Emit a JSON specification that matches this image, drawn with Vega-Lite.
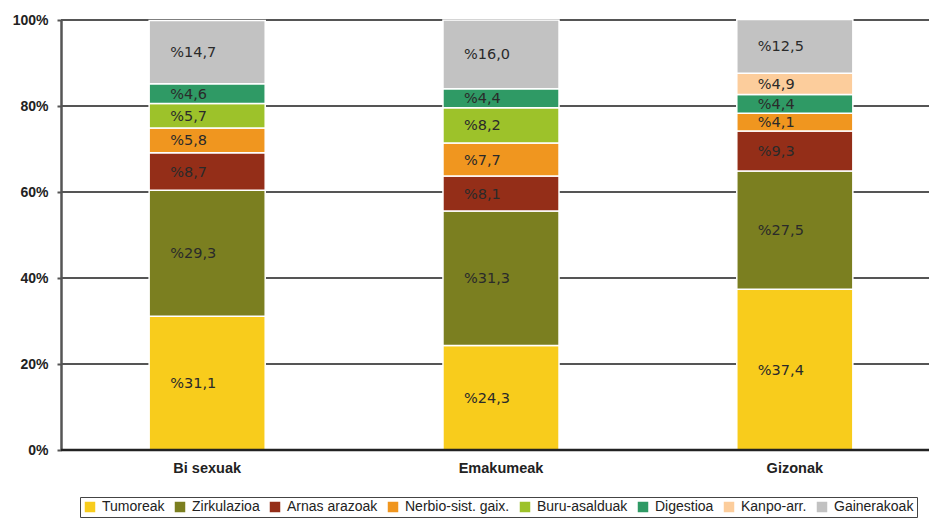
{
  "$schema": "https://vega.github.io/schema/vega-lite/v6.json",
  "width": 880,
  "height": 430,
  "autosize": "none",
  "padding": {"left": 61, "top": 20, "right": 0, "bottom": 68},
  "background": "white",
  "config": {"view": {"stroke": null}, "font": "Liberation Sans"},
  "data": {
    "values": [
      {"taldea": "Bi sexuak", "kausa": "Tumoreak", "o": 1, "balioa": 31.1, "label": "%31,1"},
      {"taldea": "Bi sexuak", "kausa": "Zirkulazioa", "o": 2, "balioa": 29.3, "label": "%29,3"},
      {"taldea": "Bi sexuak", "kausa": "Arnas arazoak", "o": 3, "balioa": 8.7, "label": "%8,7"},
      {"taldea": "Bi sexuak", "kausa": "Nerbio-sist. gaix.", "o": 4, "balioa": 5.8, "label": "%5,8"},
      {"taldea": "Bi sexuak", "kausa": "Buru-asalduak", "o": 5, "balioa": 5.7, "label": "%5,7"},
      {"taldea": "Bi sexuak", "kausa": "Digestioa", "o": 6, "balioa": 4.6, "label": "%4,6"},
      {"taldea": "Bi sexuak", "kausa": "Gainerakoak", "o": 8, "balioa": 14.7, "label": "%14,7"},
      {"taldea": "Emakumeak", "kausa": "Tumoreak", "o": 1, "balioa": 24.3, "label": "%24,3"},
      {"taldea": "Emakumeak", "kausa": "Zirkulazioa", "o": 2, "balioa": 31.3, "label": "%31,3"},
      {"taldea": "Emakumeak", "kausa": "Arnas arazoak", "o": 3, "balioa": 8.1, "label": "%8,1"},
      {"taldea": "Emakumeak", "kausa": "Nerbio-sist. gaix.", "o": 4, "balioa": 7.7, "label": "%7,7"},
      {"taldea": "Emakumeak", "kausa": "Buru-asalduak", "o": 5, "balioa": 8.2, "label": "%8,2"},
      {"taldea": "Emakumeak", "kausa": "Digestioa", "o": 6, "balioa": 4.4, "label": "%4,4"},
      {"taldea": "Emakumeak", "kausa": "Gainerakoak", "o": 8, "balioa": 16.0, "label": "%16,0"},
      {"taldea": "Gizonak", "kausa": "Tumoreak", "o": 1, "balioa": 37.4, "label": "%37,4"},
      {"taldea": "Gizonak", "kausa": "Zirkulazioa", "o": 2, "balioa": 27.5, "label": "%27,5"},
      {"taldea": "Gizonak", "kausa": "Arnas arazoak", "o": 3, "balioa": 9.3, "label": "%9,3"},
      {"taldea": "Gizonak", "kausa": "Nerbio-sist. gaix.", "o": 4, "balioa": 4.1, "label": "%4,1"},
      {"taldea": "Gizonak", "kausa": "Digestioa", "o": 6, "balioa": 4.4, "label": "%4,4"},
      {"taldea": "Gizonak", "kausa": "Kanpo-arr.", "o": 7, "balioa": 4.9, "label": "%4,9"},
      {"taldea": "Gizonak", "kausa": "Gainerakoak", "o": 8, "balioa": 12.5, "label": "%12,5"}
    ]
  },
  "transform": [
    {"stack": "balioa", "groupby": ["taldea"], "sort": [{"field": "o", "order": "ascending"}], "as": ["y0", "y1"]},
    {"calculate": "(datum.y0 + datum.y1) / 2", "as": "ymid"}
  ],
  "encoding": {
    "x": {
      "field": "taldea",
      "type": "nominal",
      "sort": ["Bi sexuak", "Emakumeak", "Gizonak"],
      "scale": {"paddingInner": 0.605, "paddingOuter": 0.3},
      "axis": {
        "title": null,
        "labelAngle": 0,
        "labelFont": "Liberation Sans",
        "labelFontWeight": "bold",
        "labelFontSize": 14.5,
        "labelColor": "#222",
        "labelPadding": 11,
        "ticks": false,
        "domain": false
      }
    }
  },
  "layer": [
    {
      "mark": {"type": "rule", "color": "#555", "strokeWidth": 2},
      "data": {"values": [{"v": 20}, {"v": 40}, {"v": 60}, {"v": 80}, {"v": 100}]},
      "transform": [],
      "encoding": {
        "x": null,
        "y": {"field": "v", "type": "quantitative", "scale": {"domain": [0, 100]}}
      }
    },
    {
      "mark": {"type": "bar", "stroke": "white", "strokeWidth": 1.5},
      "encoding": {
        "y": {
          "field": "y0",
          "type": "quantitative",
          "scale": {"domain": [0, 100]},
          "axis": {
            "title": null,
            "values": [0, 20, 40, 60, 80, 100],
            "labelExpr": "datum.value + '%'",
            "labelFont": "Liberation Sans",
            "labelFontWeight": "bold",
            "labelFontSize": 14,
            "labelColor": "#222",
            "grid": false,
            "domainColor": "#555",
            "domainWidth": 2.5,
            "tickColor": "#555",
            "tickWidth": 2,
            "tickSize": 4,
            "labelPadding": 9
          }
        },
        "y2": {"field": "y1"},
        "color": {
          "field": "kausa",
          "type": "nominal",
          "scale": {
            "domain": ["Tumoreak", "Zirkulazioa", "Arnas arazoak", "Nerbio-sist. gaix.", "Buru-asalduak", "Digestioa", "Kanpo-arr.", "Gainerakoak"],
            "range": ["#F8CC1C", "#7B7F20", "#942E18", "#F0961F", "#9DC22A", "#2F9A65", "#FCCD9C", "#C2C2C2"]
          },
          "legend": {
            "title": null,
            "orient": "none",
            "legendX": 19,
            "legendY": 477,
            "direction": "horizontal",
            "columns": 8,
            "columnPadding": 8,
            "symbolType": "square",
            "symbolSize": 110,
            "symbolStrokeWidth": 0,
            "labelFont": "Liberation Sans",
            "labelFontSize": 14,
            "labelColor": "#222",
            "labelOffset": 5,
            "strokeColor": "#444",
            "padding": 3,
            "fillColor": "white"
          }
        }
      }
    },
    {
      "mark": {"type": "text", "align": "left", "dx": -37, "dy": 1, "font": "DejaVu Sans", "fontSize": 14.5, "color": "#2a2a2a"},
      "encoding": {
        "y": {"field": "ymid", "type": "quantitative"},
        "text": {"field": "label"}
      }
    },
    {
      "mark": {"type": "rule", "color": "#222", "strokeWidth": 2.5},
      "data": {"values": [{"v": 0}]},
      "transform": [],
      "encoding": {
        "x": null,
        "y": {"field": "v", "type": "quantitative"}
      }
    }
  ]
}
